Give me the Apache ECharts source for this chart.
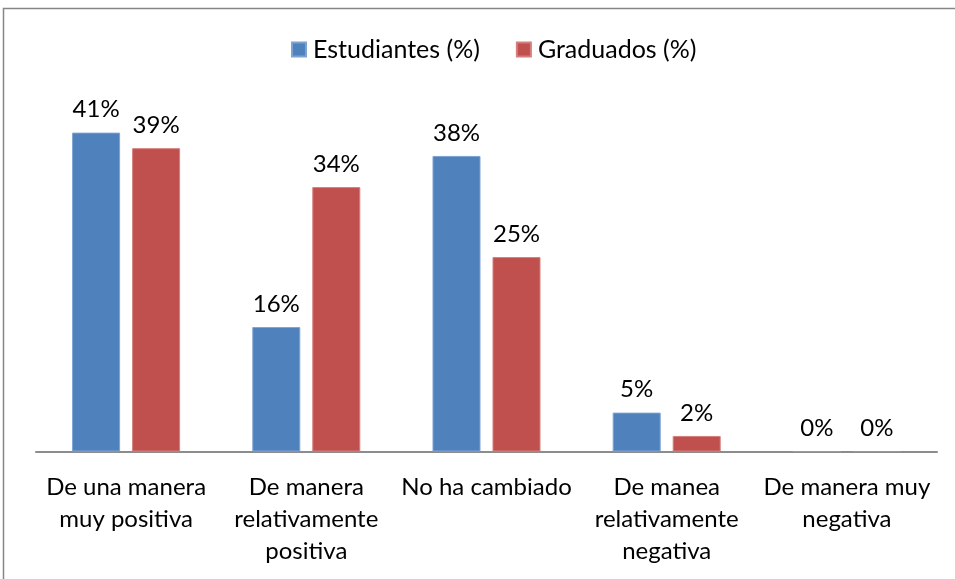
<!DOCTYPE html>
<html>
<head>
<meta charset="utf-8">
<script src="https://cdn.jsdelivr.net/npm/echarts@6/dist/echarts.min.js"></script>
<style>
  html, body { margin: 0; padding: 0; background: #ffffff; }
  #chart { width: 955px; height: 579px; }
</style>
</head>
<body>
<div id="chart"></div>
<script>
// Categories (answers) and percentages per group
const categories = [
  'De una manera\nmuy positiva',
  'De manera\nrelativamente\npositiva',
  'No ha cambiado',
  'De manea\nrelativamente\nnegativa',
  'De manera muy\nnegativa'
];
const estudiantes = [41, 16, 38, 5, 0];
const graduados = [39, 34, 25, 2, 0];
const seriesNames = ['Estudiantes (%)', 'Graduados (%)'];

const FONT = 'Lato';
const FS = 24;

const chart = echarts.init(document.getElementById('chart'), null, { renderer: 'canvas' });

const labelOpt = {
  show: true,
  position: 'top',
  distance: 11,
  formatter: p => p.value + '%',
  fontFamily: FONT,
  fontSize: FS,
  color: '#000000'
};

chart.setOption({
  animation: false,
  backgroundColor: '#ffffff',
  graphic: [{
    type: 'rect',
    shape: { x: 3.5, y: 8.5, width: 1000, height: 700 },
    style: { fill: 'none', stroke: '#868686', lineWidth: 1.5 },
    silent: true,
    z: -1
  }],
  legend: {
    data: seriesNames,
    top: 37,
    left: 291,
    padding: 0,
    itemWidth: 14,
    itemHeight: 14,
    itemGap: 36,
    icon: 'rect',
    textStyle: { fontFamily: FONT, fontSize: 25, color: '#000000', padding: [0, 0, 0, 2] }
  },
  grid: { left: 36, right: 18, top: 101.5, bottom: 127.5, containLabel: false },
  xAxis: {
    type: 'category',
    data: categories,
    axisLine: { show: true, lineStyle: { color: '#8c8c8c', width: 2 } },
    axisTick: { show: false },
    axisLabel: {
      interval: 0,
      margin: 20,
      fontFamily: FONT,
      fontSize: FS,
      lineHeight: 32,
      color: '#000000',
      verticalAlign: 'top'
    }
  },
  yAxis: {
    type: 'value',
    min: 0,
    max: 45,
    show: false,
    splitLine: { show: false }
  },
  series: [
    {
      name: seriesNames[0],
      type: 'bar',
      data: estudiantes,
      barWidth: 48,
      barGap: '25%',
      itemStyle: { color: '#4f81bd', borderColor: '#7fa3d1', borderWidth: 1 },
      label: labelOpt
    },
    {
      name: seriesNames[1],
      type: 'bar',
      data: graduados,
      barWidth: 48,
      itemStyle: { color: '#c0504d', borderColor: '#d47f7d', borderWidth: 1 },
      label: labelOpt
    }
  ]
});
</script>
</body>
</html>
